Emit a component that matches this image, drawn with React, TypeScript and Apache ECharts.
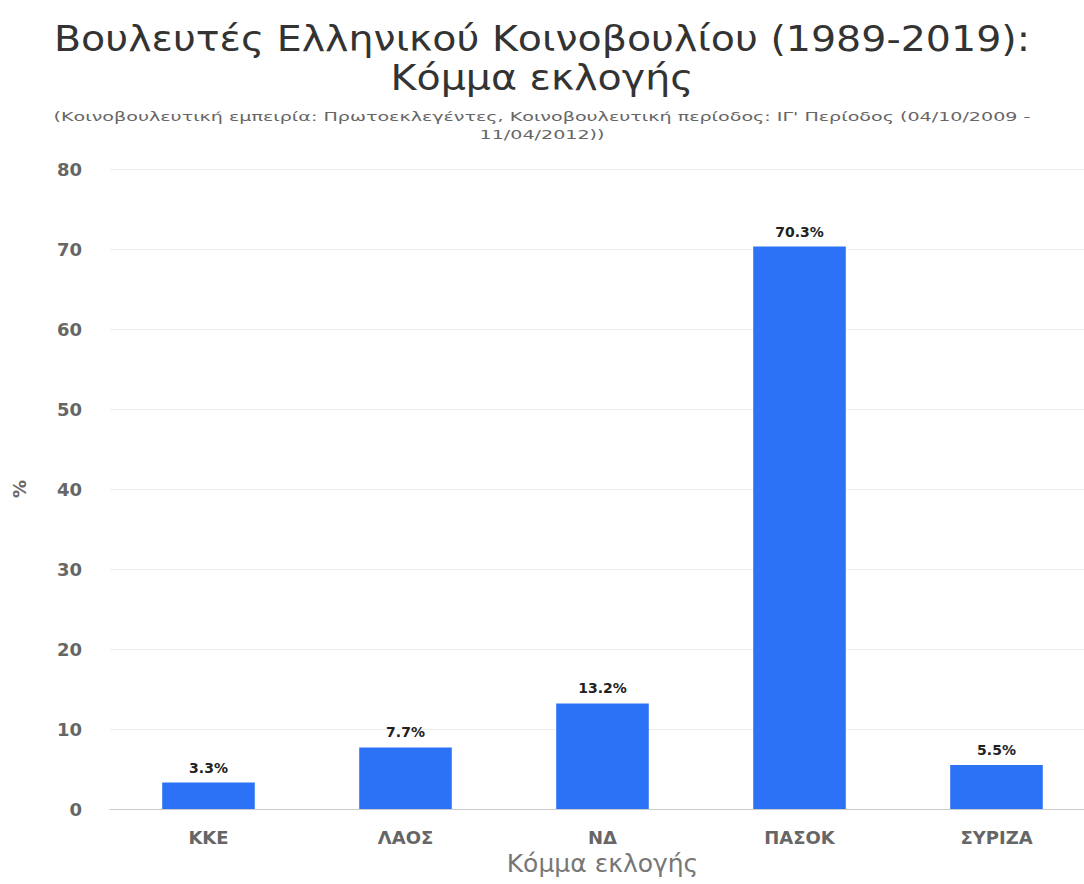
import React, { useEffect, useRef } from "react";
import * as echarts from "echarts";

const categories = ["ΚΚΕ", "ΛΑΟΣ", "ΝΔ", "ΠΑΣΟΚ", "ΣΥΡΙΖΑ"];
const values = [3.3, 7.7, 13.2, 70.3, 5.5];
const titleLine1 = "Βουλευτές Ελληνικού Κοινοβουλίου (1989-2019):";
const titleLine2 = "Κόμμα εκλογής";
const subtitleLine1 =
  "(Κοινοβουλευτική εμπειρία: Πρωτοεκλεγέντες, Κοινοβουλευτική περίοδος: ΙΓ' Περίοδος (04/10/2009 -";
const subtitleLine2 = "11/04/2012))";
const xAxisName = "Κόμμα εκλογής";
const yAxisName = "%";

export default function App() {
  const ref = useRef<HTMLDivElement>(null);
  useEffect(() => {
    if (!ref.current) return;
    const chart = echarts.init(ref.current, null, { renderer: "svg" });
    const font = "'DejaVu Sans', 'Noto Sans', sans-serif";
    const txt = (text: string, y: number, size: number, color: string, sx: number) => ({
      type: "text",
      x: 542,
      y,
      scaleX: sx,
      style: {
        text,
        x: 0,
        y: 0,
        align: "center",
        verticalAlign: "middle",
        fontSize: size,
        fontFamily: font,
        fill: color,
      },
    });
    chart.setOption({
      animation: false,
      backgroundColor: "#ffffff",
      textStyle: { fontFamily: font },
      graphic: [
        txt(titleLine1, 39, 35, "#333", 1.13),
        txt(titleLine2, 78, 35, "#333", 1.13),
        txt(subtitleLine1, 117, 13, "#666", 1.47),
        txt(subtitleLine2, 135, 13, "#666", 1.47),
      ],
      grid: {
        left: 110,
        top: 169,
        width: 985,
        height: 640,
        containLabel: false,
        outerBoundsMode: "none",
      },
      xAxis: {
        type: "category",
        data: categories,
        name: xAxisName,
        nameLocation: "middle",
        nameGap: 42,
        nameTextStyle: { fontSize: 25, color: "#777" },
        axisTick: { show: false },
        axisLine: { lineStyle: { color: "#ccc" } },
        axisLabel: { fontSize: 18, color: "#666", fontWeight: "bold", margin: 19 },
      },
      yAxis: {
        type: "value",
        min: 0,
        max: 80,
        interval: 10,
        name: yAxisName,
        nameLocation: "middle",
        nameGap: 82,
        nameRotate: 90,
        nameTextStyle: { fontSize: 18, color: "#666", fontWeight: "bold" },
        axisLabel: { fontSize: 18, color: "#666", fontWeight: "bold", margin: 28 },
        splitLine: { lineStyle: { color: "#eeeeee" } },
        axisLine: { show: false },
        axisTick: { show: false },
      },
      series: [
        {
          type: "bar",
          data: values,
          barWidth: "47%",
          itemStyle: { color: "#2b72f6" },
          label: {
            show: true,
            position: "top",
            distance: 8,
            formatter: (p: any) => p.value + "%",
            fontSize: 14,
            fontWeight: "bold",
            color: "#222",
          },
        },
      ],
    });
    return () => chart.dispose();
  }, []);
  return (
    <div
      ref={ref}
      style={{ position: "fixed", left: 0, top: 0, width: 1084, height: 884 }}
    />
  );
}
